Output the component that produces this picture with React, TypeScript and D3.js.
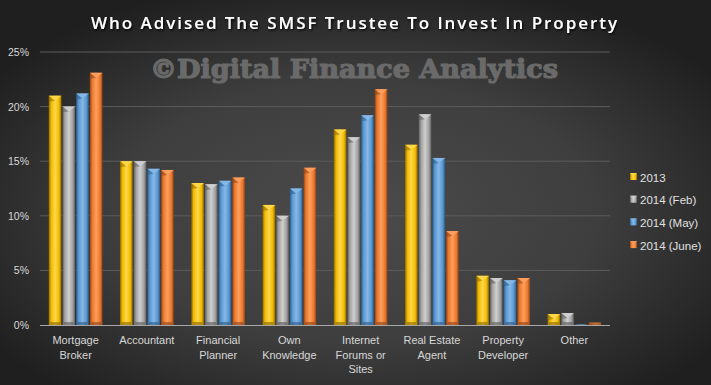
import React from "react";
import * as d3 from "d3";

const categories = [
  ["Mortgage", "Broker"],
  ["Accountant"],
  ["Financial", "Planner"],
  ["Own", "Knowledge"],
  ["Internet", "Forums or", "Sites"],
  ["Real Estate", "Agent"],
  ["Property", "Developer"],
  ["Other"],
];
const seriesNames = ["2013", "2014 (Feb)", "2014 (May)", "2014 (June)"];
const s2013 = [21.0, 15.0, 13.0, 11.0, 17.9, 16.5, 4.5, 1.0];
const sFeb = [20.0, 15.0, 12.9, 10.0, 17.2, 19.3, 4.3, 1.1];
const sMay = [21.2, 14.3, 13.2, 12.5, 19.2, 15.3, 4.1, 0.05];
const sJune = [23.1, 14.2, 13.5, 14.4, 21.6, 8.6, 4.3, 0.2];
const seriesValues = [s2013, sFeb, sMay, sJune];
const yTicks = [0, 5, 10, 15, 20, 25];

const colors = [
  { base: "#f0b800", light: "#ffd84a", dark: "#8a6700" },
  { base: "#a0a0a0", light: "#cfcfcf", dark: "#5a5a5a" },
  { base: "#5896d0", light: "#86b8e6", dark: "#2c5a85" },
  { base: "#e8782c", light: "#ff9f5e", dark: "#8e4218" },
];

const W = 711;
const H = 385;

export default function App() {
  const x0 = d3
    .scaleBand<number>()
    .domain(d3.range(categories.length))
    .range([40, 610])
    .paddingInner(0.232)
    .paddingOuter(0.116);
  const x1 = d3
    .scaleBand<number>()
    .domain(d3.range(seriesNames.length))
    .range([0, x0.bandwidth()])
    .paddingInner(0.0);
  const y = d3.scaleLinear().domain([0, 25]).range([325, 52]);

  const labelFont = "'Liberation Sans', Arial, sans-serif";

  return (
    <svg width={W} height={H} style={{ position: "absolute", left: 0, top: 0 }}>
      <defs>
        <radialGradient id="bg" cx="0.5" cy="0.55" r="0.62">
          <stop offset="0" stopColor="#4b4b4b" />
          <stop offset="0.55" stopColor="#3e3e3e" />
          <stop offset="1" stopColor="#1f1f1f" />
        </radialGradient>
        {colors.map((c, i) => (
          <linearGradient key={i} id={`g${i}`} x1="0" x2="1" y1="0" y2="0">
            <stop offset="0" stopColor={c.dark} />
            <stop offset="0.18" stopColor={c.base} />
            <stop offset="0.5" stopColor={c.light} stopOpacity="1" />
            <stop offset="0.82" stopColor={c.base} />
            <stop offset="1" stopColor={c.dark} />
          </linearGradient>
        ))}
        <filter id="tshadow" x="-5%" y="-20%" width="110%" height="160%">
          <feDropShadow dx="1" dy="1.5" stdDeviation="0.8" floodColor="#000" floodOpacity="0.9" />
        </filter>
      </defs>
      <rect x={0} y={0} width={W} height={H} fill="url(#bg)" />

      {/* gridlines */}
      {yTicks.slice(1).map((t) => (
        <line key={t} x1={40} x2={610} y1={y(t)} y2={y(t)} stroke="#5c5c5c" strokeWidth={1} />
      ))}

      {/* watermark */}
      <text
        x={354}
        y={78}
        textAnchor="middle"
        fontFamily="'DejaVu Serif', serif"
        fontWeight="bold"
        fontSize={26}
        fill="#6a6a6a"
        stroke="#6a6a6a"
        strokeWidth={1.2}
        textLength={408}
        lengthAdjust="spacingAndGlyphs"
      >
        ©Digital Finance Analytics
      </text>

      {/* title */}
      <text
        x={354}
        y={29}
        textAnchor="middle"
        fontFamily="'Open Sans', sans-serif"
        fontWeight="600"
        fontSize={17}
        fill="#ffffff"
        textLength={526}
        lengthAdjust="spacing"
        filter="url(#tshadow)"
      >
        Who Advised The SMSF Trustee To Invest In Property
      </text>

      {/* y tick labels */}
      {yTicks.map((t) => (
        <text
          key={t}
          x={29}
          y={y(t) + 4}
          textAnchor="end"
          fontFamily={labelFont}
          fontSize={10.5}
          fill="#d8d8d8"
        >
          {t}%
        </text>
      ))}

      {/* bars */}
      {categories.map((_, ci) => (
        <g key={ci} transform={`translate(${x0(ci)},0)`}>
          {seriesValues.map((vals, si) => {
            const v = vals[ci];
            const bx = x1(si)!;
            const bw = x1.bandwidth();
            const top = y(v);
            const h = 325 - top;
            const bev = Math.min(5, h);
            const c = colors[si];
            return (
              <g key={si}>
                <rect x={bx + 0.5} y={top} width={bw - 1} height={h} fill={`url(#g${si})`} />
                {h > 2 && (
                  <>
                    <polygon
                      points={`${bx + 0.5},${top} ${bx + bw - 0.5},${top} ${bx + bw / 2},${top + bev}`}
                      fill={c.light}
                      opacity={0.95}
                    />
                    <polygon
                      points={`${bx + 0.5},${top} ${bx + bw / 2},${top + bev} ${bx + 0.5},${top + bev + 1}`}
                      fill={c.dark}
                      opacity={0.5}
                    />
                    <rect x={bx + 2} y={325 - Math.min(3, h)} width={bw - 4} height={Math.min(3, h)} fill={c.dark} opacity={0.6} />
                  </>
                )}
              </g>
            );
          })}
        </g>
      ))}

      {/* axis line */}
      <line x1={40} x2={610} y1={325.5} y2={325.5} stroke="#a8a8a8" strokeWidth={1} />

      {/* x labels */}
      {categories.map((lines, ci) => (
        <text
          key={ci}
          textAnchor="middle"
          fontFamily={labelFont}
          fontSize={11}
          fill="#d8d8d8"
        >
          {lines.map((ln, li) => (
            <tspan key={li} x={x0(ci)! + x0.bandwidth() / 2} y={344 + li * 14.5}>
              {ln}
            </tspan>
          ))}
        </text>
      ))}

      {/* legend */}
      {seriesNames.map((n, i) => (
        <g key={n} transform={`translate(630,${177 + i * 22.7})`}>
          <rect x={0} y={-4} width={7} height={7} fill={`url(#g${i})`} />
          <polygon points={`0,-4 7,-4 3.5,-0.5`} fill={colors[i].light} opacity={0.8} />
          <text x={10} y={4.5} fontFamily={labelFont} fontSize={11.5} fill="#e0e0e0">
            {n}
          </text>
        </g>
      ))}
    </svg>
  );
}
